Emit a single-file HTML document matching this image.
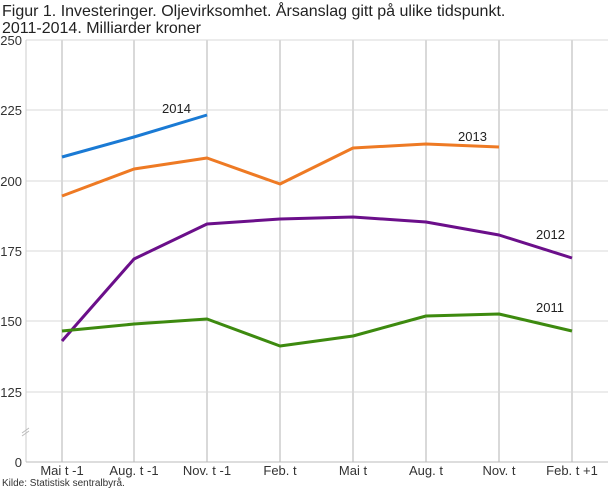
<!DOCTYPE html><html><head><style>body{margin:0;background:#fff}</style></head><body>
<svg width="610" height="488" xmlns="http://www.w3.org/2000/svg" font-family="'Liberation Sans',sans-serif">
<text x="2" y="16" font-size="16" fill="#222">Figur 1. Investeringer. Oljevirksomhet. Årsanslag gitt på ulike tidspunkt.</text>
<text x="2" y="33" font-size="16" fill="#222">2011-2014. Milliarder kroner</text>
<g stroke="#d9d9d9" stroke-width="1">
<line x1="26" x2="608" y1="40" y2="40"/><line x1="26" x2="608" y1="110" y2="110"/><line x1="26" x2="608" y1="181" y2="181"/><line x1="26" x2="608" y1="251" y2="251"/><line x1="26" x2="608" y1="321" y2="321"/><line x1="26" x2="608" y1="392" y2="392"/>
</g>
<g stroke="#d9d9d9" stroke-width="2">
<line x1="62" x2="62" y1="40" y2="462"/><line x1="134" x2="134" y1="40" y2="462"/><line x1="207" x2="207" y1="40" y2="462"/><line x1="280" x2="280" y1="40" y2="462"/><line x1="353" x2="353" y1="40" y2="462"/><line x1="426" x2="426" y1="40" y2="462"/><line x1="499" x2="499" y1="40" y2="462"/><line x1="572" x2="572" y1="40" y2="462"/>
</g>
<line x1="26" x2="26" y1="40" y2="462" stroke="#ccc"/>
<line x1="26" x2="608" y1="462" y2="462" stroke="#bbb"/>
<line x1="22" y1="433" x2="29" y2="428" stroke="#bbb"/><line x1="22" y1="436" x2="29" y2="431" stroke="#bbb"/>
<g font-size="13" fill="#333" text-anchor="end">
<text x="22" y="45">250</text><text x="22" y="115">225</text><text x="22" y="186">200</text><text x="22" y="256">175</text><text x="22" y="326">150</text><text x="22" y="397">125</text><text x="22" y="467">0</text>
</g>
<g font-size="13" fill="#333" text-anchor="middle">
<text x="62" y="475">Mai  t -1</text><text x="134" y="475">Aug. t -1</text><text x="207" y="475">Nov. t -1</text><text x="280" y="475">Feb. t</text><text x="353" y="475">Mai t</text><text x="426" y="475">Aug. t</text><text x="499" y="475">Nov. t</text><text x="572" y="475">Feb. t +1</text>
</g>
<text x="2" y="486" font-size="10" fill="#333">Kilde: Statistisk sentralbyrå.</text>
<g fill="none" stroke-width="3" stroke-linejoin="round">
<polyline stroke="#1a7ad4" points="62,157 134,137 207,115"/>
<polyline stroke="#ee7a24" points="62,196 134,169 207,158 280,184 353,148 426,144 499,147"/>
<polyline stroke="#6b0f8a" points="62,341 134,259 207,224 280,219 353,217 426,222 499,235 572,258"/>
<polyline stroke="#3d8a0f" points="62,331 134,324 207,319 280,346 353,336 426,316 499,314 572,331"/>
</g>
<g font-size="13" fill="#222">
<text x="162" y="113">2014</text><text x="458" y="141">2013</text><text x="536" y="239">2012</text><text x="536" y="312">2011</text>
</g>
</svg>
</body></html>
